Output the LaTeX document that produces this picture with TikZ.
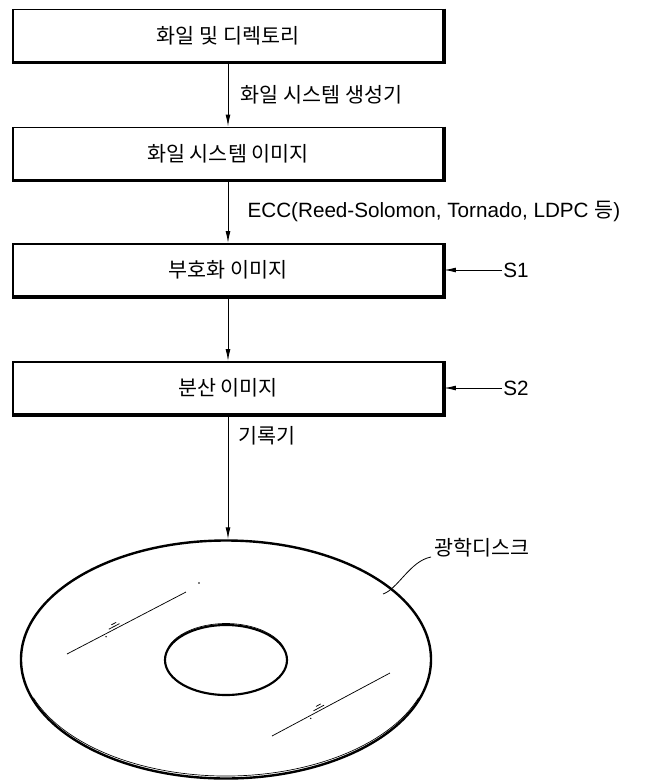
\documentclass[tikz,border=0pt]{standalone}
\usepackage{fontspec}
\setmainfont{Noto Sans CJK KR}
\newfontfamily\latinfont{Liberation Sans}
\usetikzlibrary{positioning, arrows.meta, shapes.geometric, calc}

\begin{document}
\begin{tikzpicture}[
		x=0.75pt, y=-0.75pt,
		stage/.style={rectangle, draw, line width=1.4pt, minimum width=322.5pt, minimum height=39pt, inner sep=0pt},
		flow/.style={-{Latex[length=9pt, width=3.6pt]}, line width=0.7pt},
		lbl/.style={font=\fontsize{15.5pt}{18pt}\selectfont},
		disc/.style={ellipse, draw, line width=1.8pt, inner sep=0pt},
		rim/.style={line width=0.5pt},
		glare/.style={line width=0.55pt}
		]
		\useasboundingbox (0,0) rectangle (646,782);
		% Processing stages, heavier edge on the right and bottom
		\foreach \n/\y/\t in {b1/35.5/화일 및 디렉토리, b2/153.5/화일 시스템 이미지, b3/270/부호화 이미지, b4/388/분산 이미지} {
			\node[stage, lbl] (\n) at (228,\y) {\t};
			\draw[line width=2.6pt] (\n.north east) -- (\n.south east) -- (\n.south west);
		}
		% Flow between the stages
		\draw[flow] (b1) -- (b2) node[midway, right=6pt, lbl] {화일 시스템 생성기};
		\draw[flow] (b2) -- (b3) node[midway, right=11pt, lbl] {{\latinfont ECC(Reed-Solomon, Tornado, LDPC }등{\latinfont )}};
		\draw[flow] (b3) -- (b4);
		% Step markers
		\foreach \s/\b in {1/b3, 2/b4} {
			\node[lbl, inner sep=1pt] (s\s) at ($(\b.east)+(72,0)$) {\latinfont S\s};
			\draw[flow] (s\s) -- (\b);
		}
		% Optical disc
		\node[disc, minimum width=307.5pt, minimum height=178.5pt] (disk) at (226,659.5) {};
		\node[disc, line width=1.6pt, minimum width=91.5pt, minimum height=52.5pt] (hub) at (226,660) {};
		\draw[rim] (226,657) ++(20:205 and 119) arc[start angle=20, end angle=160, x radius=205, y radius=119];
		\draw[rim] (226,658.5) ++(200:61 and 35) arc[start angle=200, end angle=340, x radius=61, y radius=35];
		\draw[flow] (b4.south) -- (b4.south |- disk.north) node[pos=0.165, right=4pt, lbl] {기록기};
		% Glare lines on the disc surface
		\foreach \ax/\ay/\bx/\by in {67/654/186/592, 272/736/390/673} {
			\draw[glare] (\ax,\ay) -- (\bx,\by);
			\draw[glare] ($(\ax,\ay)!0.36!(\bx,\by)+(-1,-2.5)$) -- ($(\ax,\ay)!0.45!(\bx,\by)+(-1,-2.5)$);
			\draw[glare] ($(\ax,\ay)!0.39!(\bx,\by)+(-2,-5)$) -- ($(\ax,\ay)!0.43!(\bx,\by)+(-2,-5)$);
			\fill ($(\ax,\ay)!0.32!(\bx,\by)+(1,2.5)$) circle[radius=0.8];
		}
		\fill (199,583) circle[radius=0.9];
		% Disc label with leader
		\node[lbl, anchor=west] (disklbl) at (430,548) {광학디스크};
		\coordinate (leadA) at (383,594);
		\coordinate (leadB) at (431,557);
		\draw[line width=0.6pt] (leadA) .. controls (398,589) and (410,561) .. (leadB);
	\end{tikzpicture}
\end{document}
